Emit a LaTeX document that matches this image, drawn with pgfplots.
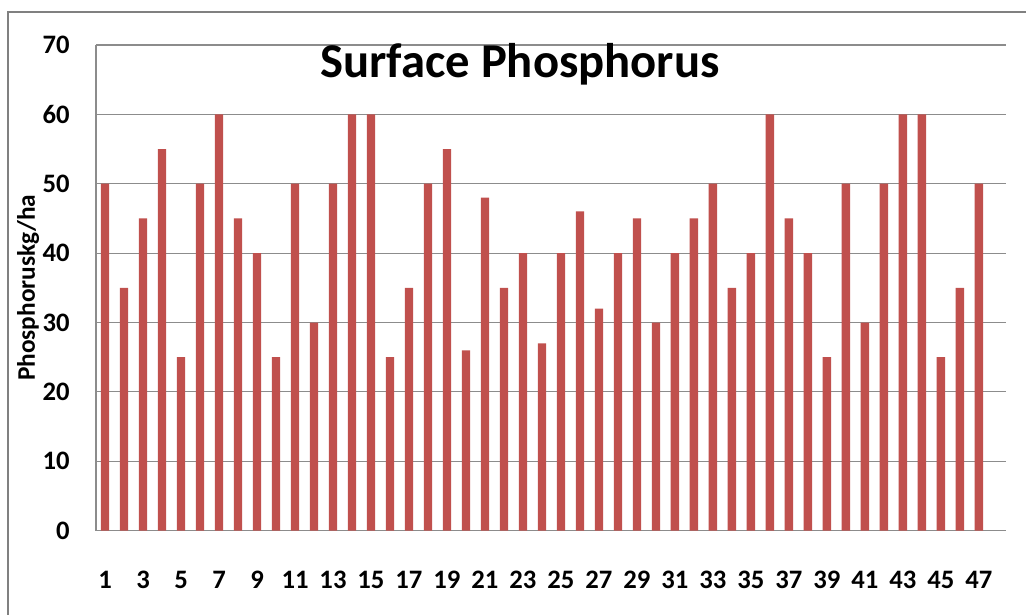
\documentclass[border=0pt]{standalone}
\usepackage{fontspec}
\setmainfont{Carlito}
\usepackage{pgfplots}
\pgfplotsset{compat=1.18}
\definecolor{barred}{RGB}{192,80,77}
\definecolor{gridgray}{RGB}{140,140,140}

\begin{document}
\begin{tikzpicture}
  \begin{axis}[
    scale only axis,
    width=683pt, height=364.5pt,
    ybar, bar width=0.44,
    xmin=0.52, xmax=48.43,
    ymin=0, ymax=70,
    xtick={1,3,...,47},
    ytick={0,10,...,70},
    tick style={draw=none},
    axis x line*=bottom, axis y line*=left,
    axis line style={gridgray, line width=0.9pt, -},
    ymajorgrids, grid style={gridgray, line width=0.9pt},
    /pgf/number format/assume math mode=true,
    ticklabel style={font=\fontsize{20}{22}\selectfont\bfseries, inner sep=0pt},
    yticklabel style={xshift=-19.5pt},
    xticklabel style={yshift=-26pt},
    title={Surface Phosphorus},
    title style={font=\fontsize{36.5}{40}\selectfont\bfseries,
      at={(axis description cs:0.466,0.943)}, anchor=center},
    ylabel={Phosphoruskg/ha},
    ylabel style={font=\fontsize{19}{21}\selectfont\bfseries,
      at={(axis description cs:-0.0745,0.5)}, anchor=center},
  ]
    \addplot[fill=barred, draw=none] coordinates {
      (1,50) (2,35) (3,45) (4,55) (5,25) (6,50) (7,60) (8,45) (9,40) (10,25)
      (11,50) (12,30) (13,50) (14,60) (15,60) (16,25) (17,35) (18,50) (19,55) (20,26)
      (21,48) (22,35) (23,40) (24,27) (25,40) (26,46) (27,32) (28,40) (29,45) (30,30)
      (31,40) (32,45) (33,50) (34,35) (35,40) (36,60) (37,45) (38,40) (39,25) (40,50)
      (41,30) (42,50) (43,60) (44,60) (45,25) (46,35) (47,50)
    };
  \end{axis}
  % outer chart frame (only left and top edges are visible in the reference)
  \draw[gray, line width=1pt] (-66pt,-63pt) -- (-66pt,389.25pt) -- (698.25pt,389.25pt);
  \useasboundingbox (-72pt,-63pt) rectangle (698.25pt,398.25pt);
\end{tikzpicture}
\end{document}
